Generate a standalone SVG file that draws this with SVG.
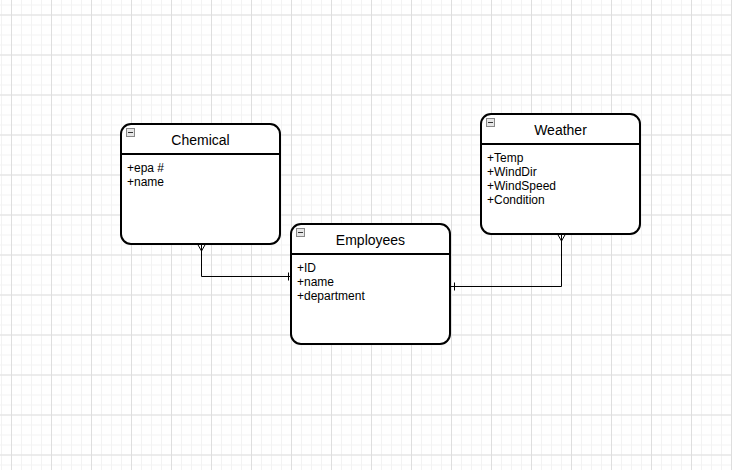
<svg xmlns="http://www.w3.org/2000/svg" width="732" height="470" viewBox="0 0 732 470">
<defs>
<pattern id="minor" x="1" y="4.5" width="10" height="10" patternUnits="userSpaceOnUse">
<path d="M0.5 0V10M0 0.5H10" stroke="#f3f3f3" stroke-width="1" fill="none"/>
</pattern>
<pattern id="major" x="11" y="14.5" width="40" height="40" patternUnits="userSpaceOnUse">
<path d="M0.5 0V40M0 0.5H40" stroke="#dedede" stroke-width="1" fill="none"/>
</pattern>
</defs>
<style>
.box{fill:#fff;stroke:#000;stroke-width:2}
.sep{stroke:#000;stroke-width:2}
.title{font-family:"Liberation Sans",Arial,sans-serif;font-size:14px;fill:#000;text-anchor:middle}
.attr{font-family:"Liberation Sans",Arial,sans-serif;font-size:12px;fill:#000}
.icon{fill:#e6e6e6;stroke:#888;stroke-width:1}
.edge{fill:none;stroke:#000;stroke-width:1}
</style>
<rect width="732" height="470" fill="#fff"/>
<rect width="732" height="470" fill="url(#minor)"/>
<rect width="732" height="470" fill="url(#major)"/>
<g id="connectors">
<path class="edge" d="M201.5 244V276.5H291"/>
<path class="edge" d="M197.5 244L201.5 251L205.5 244"/>
<path class="edge" d="M288.5 272.5V280.5"/>
<path class="edge" d="M561.5 234V286.5H451"/>
<path class="edge" d="M557.5 234L561.5 241L565.5 234"/>
<path class="edge" d="M454.5 282.5V290.5"/>
</g>
<g id="chemical">
<rect class="box" x="121" y="124" width="159" height="120" rx="10"/>
<line class="sep" x1="121" y1="154" x2="280" y2="154"/>
<rect class="icon" x="126.5" y="128.5" width="8" height="8"/>
<line x1="128" y1="132.5" x2="133" y2="132.5" stroke="#333"/>
<text class="title" x="200.5" y="145">Chemical</text>
<text class="attr" x="127" y="172">+epa #</text>
<text class="attr" x="127" y="186">+name</text>
</g>
<g id="weather">
<rect class="box" x="481" y="114" width="159" height="120" rx="10"/>
<line class="sep" x1="481" y1="144" x2="640" y2="144"/>
<rect class="icon" x="486.5" y="118.5" width="8" height="8"/>
<line x1="488" y1="122.5" x2="493" y2="122.5" stroke="#333"/>
<text class="title" x="560.5" y="135">Weather</text>
<text class="attr" x="487" y="162">+Temp</text>
<text class="attr" x="487" y="176">+WindDir</text>
<text class="attr" x="487" y="190">+WindSpeed</text>
<text class="attr" x="487" y="204">+Condition</text>
</g>
<g id="employees">
<rect class="box" x="291" y="224" width="159" height="120" rx="10"/>
<line class="sep" x1="291" y1="254" x2="450" y2="254"/>
<rect class="icon" x="296.5" y="228.5" width="8" height="8"/>
<line x1="298" y1="232.5" x2="303" y2="232.5" stroke="#333"/>
<text class="title" x="370.5" y="245">Employees</text>
<text class="attr" x="297" y="272">+ID</text>
<text class="attr" x="297" y="286">+name</text>
<text class="attr" x="297" y="300">+department</text>
</g>
</svg>
